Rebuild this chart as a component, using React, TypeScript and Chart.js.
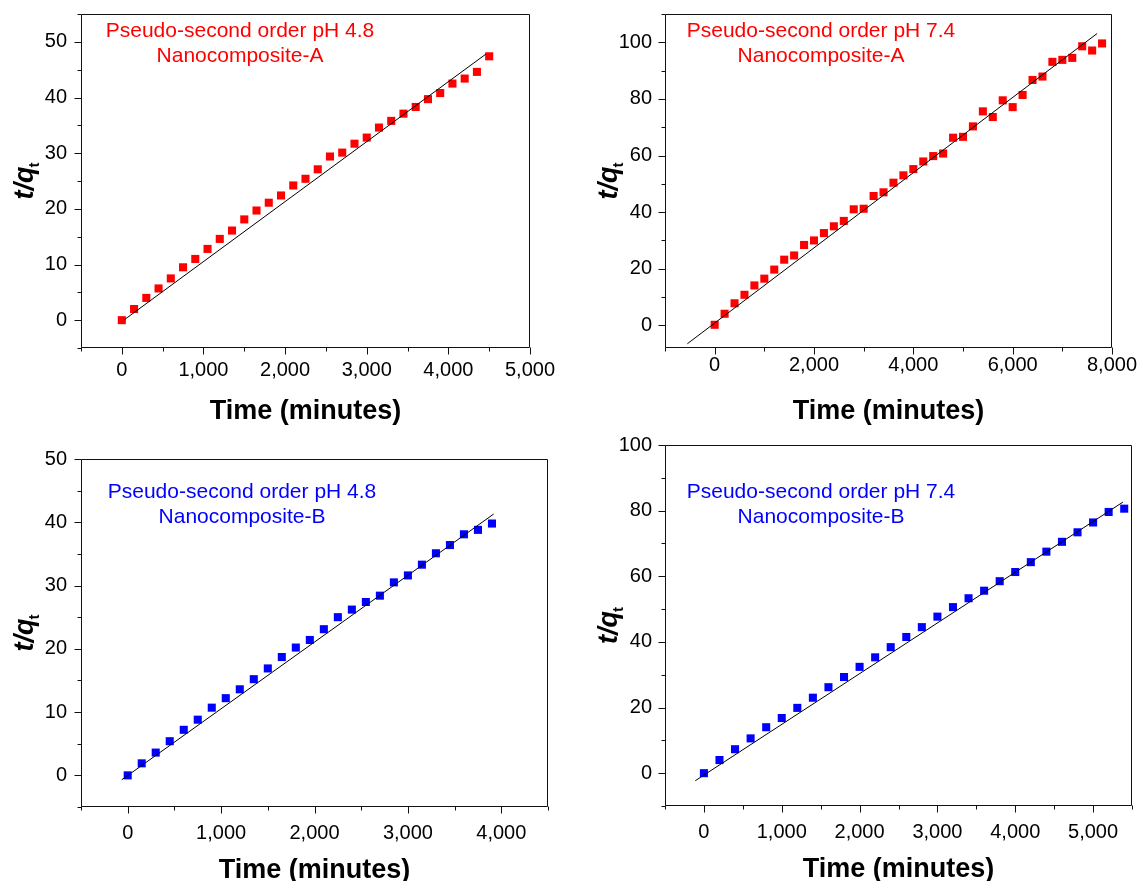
import React, { useEffect, useRef } from 'react';
import { Chart, registerables } from 'chart.js';

Chart.register(...registerables);

const FONT = '"Liberation Sans", Arial, Helvetica, sans-serif';

// ---------- Data: Nanocomposite-A, pH 4.8 ----------
const timeA48 = [0, 150, 300, 450, 600, 750, 900, 1050, 1200, 1350, 1500, 1650, 1800, 1950, 2100, 2250, 2400, 2550, 2700, 2850, 3000, 3150, 3300, 3450, 3600, 3750, 3900, 4050, 4200, 4350, 4500];
const qA48 = [0, 2.0, 4.0, 5.7, 7.5, 9.5, 11.0, 12.8, 14.6, 16.1, 18.1, 19.7, 21.1, 22.4, 24.2, 25.4, 27.1, 29.4, 30.1, 31.7, 32.8, 34.6, 35.8, 37.1, 38.3, 39.7, 40.8, 42.5, 43.4, 44.6, 47.4];
const fitTimeA48 = [30, 4460];
const fitQA48 = [0.07, 47.8];
const xTicksA48 = [0, 1000, 2000, 3000, 4000, 5000];
const yTicksA48 = [0, 10, 20, 30, 40, 50];

// ---------- Data: Nanocomposite-A, pH 7.4 ----------
const timeA74 = [0, 200, 400, 600, 800, 1000, 1200, 1400, 1600, 1800, 2000, 2200, 2400, 2600, 2800, 3000, 3200, 3400, 3600, 3800, 4000, 4200, 4400, 4600, 4800, 5000, 5200, 5400, 5600, 5800, 6000, 6200, 6400, 6600, 6800, 7000, 7200, 7400, 7600, 7800];
const qA74 = [0.2, 4.1, 7.8, 10.8, 14.1, 16.5, 19.7, 23.2, 24.7, 28.4, 30.0, 32.6, 35.0, 36.9, 41.0, 41.2, 45.7, 47.0, 50.4, 53.0, 55.2, 57.9, 59.8, 60.7, 66.3, 66.6, 70.3, 75.6, 73.6, 79.5, 77.1, 81.4, 86.7, 87.9, 93.1, 93.8, 94.5, 98.6, 97.1, 99.6];
const fitTimeA74 = [-550, 7700];
const fitQA74 = [-6.5, 103.1];
const xTicksA74 = [0, 2000, 4000, 6000, 8000];
const yTicksA74 = [0, 20, 40, 60, 80, 100];

// ---------- Data: Nanocomposite-B, pH 4.8 ----------
const timeB48 = [0, 150, 300, 450, 600, 750, 900, 1050, 1200, 1350, 1500, 1650, 1800, 1950, 2100, 2250, 2400, 2550, 2700, 2850, 3000, 3150, 3300, 3450, 3600, 3750, 3900];
const qB48 = [0, 1.9, 3.6, 5.4, 7.2, 8.8, 10.7, 12.2, 13.6, 15.2, 16.9, 18.7, 20.2, 21.4, 23.1, 25.0, 26.2, 27.4, 28.4, 30.5, 31.6, 33.3, 35.1, 36.4, 38.1, 38.8, 39.8];
const fitTimeB48 = [-64, 3918];
const fitQB48 = [-0.7, 41.3];
const xTicksB48 = [0, 1000, 2000, 3000, 4000];
const yTicksB48 = [0, 10, 20, 30, 40, 50];

// ---------- Data: Nanocomposite-B, pH 7.4 ----------
const timeB74 = [0, 200, 400, 600, 800, 1000, 1200, 1400, 1600, 1800, 2000, 2200, 2400, 2600, 2800, 3000, 3200, 3400, 3600, 3800, 4000, 4200, 4400, 4600, 4800, 5000, 5200, 5400];
const qB74 = [0, 4.0, 7.3, 10.6, 14.0, 16.8, 19.9, 23.0, 26.2, 29.3, 32.4, 35.3, 38.4, 41.5, 44.5, 47.7, 50.6, 53.3, 55.6, 58.5, 61.3, 64.3, 67.5, 70.5, 73.4, 76.4, 79.6, 80.6];
const fitTimeB74 = [-111, 5383];
const fitQB74 = [-2.3, 82.6];
const xTicksB74 = [0, 1000, 2000, 3000, 4000, 5000];
const yTicksB74 = [0, 20, 40, 60, 80, 100];

const xTitle = 'Time (minutes)';
const yTitleMain = 't/q';
const yTitleSub = 't';

type Panel = {
  time: number[]; q: number[]; fitT: number[]; fitQ: number[];
  xTicks: number[]; yTicks: number[];
  xMin: number; xMax: number; yMin: number; yMax: number;
  xMajor: number; xMinor: number; yMajor: number; yMinor: number;
  color: string; line1: string; line2: string;
  // layout
  left: number; top: number; w: number; h: number;
  padTop: number; padRight: number; xAxisH: number; xLabelPad: number; yLabelPad: number;
  noteDx: number; noteDy: number;
};

const panels: Panel[] = [
  {
    time: timeA48, q: qA48, fitT: fitTimeA48, fitQ: fitQA48, xTicks: xTicksA48, yTicks: yTicksA48,
    xMin: -500, xMax: 5000, yMin: -5, yMax: 55, xMajor: 1000, xMinor: 500, yMajor: 10, yMinor: 5,
    color: '#ff0000', line1: 'Pseudo-second order pH 4.8', line2: 'Nanocomposite-A',
    left: 0, top: 0, w: 570, h: 440, padTop: 14, padRight: 40, xAxisH: 92, xLabelPad: 2, yLabelPad: 6,
    noteDx: 159, noteDy: 23,
  },
  {
    time: timeA74, q: qA74, fitT: fitTimeA74, fitQ: fitQA74, xTicks: xTicksA74, yTicks: yTicksA74,
    xMin: -1000, xMax: 8000, yMin: -8, yMax: 110, xMajor: 2000, xMinor: 1000, yMajor: 20, yMinor: 10,
    color: '#ff0000', line1: 'Pseudo-second order pH 7.4', line2: 'Nanocomposite-A',
    left: 584, top: 0, w: 554, h: 440, padTop: 14, padRight: 26, xAxisH: 92, xLabelPad: -3, yLabelPad: 5,
    noteDx: 156, noteDy: 23,
  },
  {
    time: timeB48, q: qB48, fitT: fitTimeB48, fitQ: fitQB48, xTicks: xTicksB48, yTicks: yTicksB48,
    xMin: -500, xMax: 4500, yMin: -5, yMax: 50, xMajor: 1000, xMinor: 500, yMajor: 10, yMinor: 5,
    color: '#0000ff', line1: 'Pseudo-second order pH 4.8', line2: 'Nanocomposite-B',
    left: 0, top: 420, w: 584, h: 461, padTop: 39, padRight: 36, xAxisH: 74, xLabelPad: 6, yLabelPad: 6,
    noteDx: 161, noteDy: 39,
  },
  {
    time: timeB74, q: qB74, fitT: fitTimeB74, fitQ: fitQB74, xTicks: xTicksB74, yTicks: yTicksB74,
    xMin: -500, xMax: 5500, yMin: -10, yMax: 100, xMajor: 1000, xMinor: 500, yMajor: 20, yMinor: 10,
    color: '#0000ff', line1: 'Pseudo-second order pH 7.4', line2: 'Nanocomposite-B',
    left: 584, top: 420, w: 554, h: 461, padTop: 25, padRight: 6, xAxisH: 75, xLabelPad: 6, yLabelPad: 5,
    noteDx: 156, noteDy: 53,
  },
];

const isMultiple = (v: number, step: number) => Math.abs(v / step - Math.round(v / step)) < 1e-6;

function framePlugin(p: Panel) {
  return {
    id: 'frame',
    afterDraw(chart: any) {
      const { ctx, chartArea } = chart;
      const { left, right, top, bottom } = chartArea;
      const xs = chart.scales.x;
      const ys = chart.scales.y;
      ctx.save();
      ctx.strokeStyle = '#111';
      ctx.lineWidth = 1;
      const L = Math.round(left) + 0.5;
      const R = Math.round(right) - 0.5;
      const T = Math.round(top) + 0.5;
      const B = Math.round(bottom) - 0.5;
      ctx.beginPath();
      ctx.rect(L, T, R - L, B - T);
      ctx.stroke();
      // x ticks (outward, downward)
      ctx.beginPath();
      const x0 = Math.ceil(p.xMin / p.xMinor - 1e-9) * p.xMinor;
      for (let v = x0; v <= p.xMax + 1e-9; v += p.xMinor) {
        const px = Math.round(xs.getPixelForValue(v)) + 0.5;
        const len = isMultiple(v, p.xMajor) ? 7 : 4;
        ctx.moveTo(px, B);
        ctx.lineTo(px, B + len);
      }
      // y ticks (outward, leftward)
      const y0 = Math.ceil(p.yMin / p.yMinor - 1e-9) * p.yMinor;
      for (let v = y0; v <= p.yMax + 1e-9; v += p.yMinor) {
        const py = Math.round(ys.getPixelForValue(v)) + 0.5;
        const len = isMultiple(v, p.yMajor) ? 7 : 4;
        ctx.moveTo(L, py);
        ctx.lineTo(L - len, py);
      }
      ctx.stroke();

      // x title
      ctx.fillStyle = '#000';
      ctx.font = `bold 27px ${FONT}`;
      ctx.textAlign = 'center';
      ctx.textBaseline = 'alphabetic';
      ctx.fillText(xTitle, (left + right) / 2, bottom + 71);

      // y title with subscript
      ctx.save();
      ctx.translate(left - 48, (top + bottom) / 2);
      ctx.rotate(-Math.PI / 2);
      ctx.font = `italic bold 27px ${FONT}`;
      const w1 = ctx.measureText(yTitleMain).width;
      ctx.font = `bold 15px ${FONT}`;
      const w2 = ctx.measureText(yTitleSub).width;
      const start = -(w1 + w2 - 1) / 2;
      ctx.textAlign = 'left';
      ctx.font = `italic bold 27px ${FONT}`;
      ctx.fillText(yTitleMain, start, 0);
      ctx.font = `bold 15px ${FONT}`;
      ctx.fillText(yTitleSub, start + w1 - 1, 6);
      ctx.restore();

      // annotation
      ctx.fillStyle = p.color;
      ctx.font = `21px ${FONT}`;
      ctx.textAlign = 'center';
      ctx.fillText(p.line1, left + p.noteDx, top + p.noteDy);
      ctx.fillText(p.line2, left + p.noteDx, top + p.noteDy + 25);
      ctx.restore();
    },
  };
}

function PanelChart({ p }: { p: Panel }) {
  const ref = useRef<HTMLCanvasElement | null>(null);
  useEffect(() => {
    if (!ref.current) return;
    const chart = new Chart(ref.current, {
      type: 'scatter',
      data: {
        datasets: [
          {
            type: 'line',
            data: p.fitT.map((t, i) => ({ x: t, y: p.fitQ[i] })),
            borderColor: '#000',
            borderWidth: 1,
            pointRadius: 0,
            fill: false,
            showLine: true,
          } as any,
          {
            data: p.time.map((t, i) => ({ x: t, y: p.q[i] })),
            pointStyle: 'rect',
            pointRadius: 5.7,
            pointBackgroundColor: p.color,
            pointBorderWidth: 0,
            backgroundColor: p.color,
            borderColor: p.color,
            showLine: false,
          },
        ],
      },
      options: {
        responsive: false,
        animation: false,
        devicePixelRatio: 1,
        layout: { padding: { left: 0, top: p.padTop, right: p.padRight, bottom: 0 } },
        plugins: { legend: { display: false }, tooltip: { enabled: false } },
        scales: {
          x: {
            type: 'linear',
            min: p.xMin,
            max: p.xMax,
            grid: { display: false },
            border: { display: false },
            ticks: {
              color: '#000',
              font: { family: FONT, size: 20 },
              padding: p.xLabelPad,
              maxRotation: 0,
              autoSkip: false,
              callback: (v: any) => Number(v).toLocaleString('en-US'),
            },
            afterBuildTicks: (s: any) => { s.ticks = p.xTicks.map((v) => ({ value: v })); },
            afterFit: (s: any) => { s.height = p.xAxisH; s.paddingLeft = 0; s.paddingRight = 0; },
          },
          y: {
            type: 'linear',
            min: p.yMin,
            max: p.yMax,
            grid: { display: false },
            border: { display: false },
            ticks: {
              color: '#000',
              font: { family: FONT, size: 20 },
              padding: p.yLabelPad,
              autoSkip: false,
              callback: (v: any) => Number(v).toLocaleString('en-US'),
            },
            afterBuildTicks: (s: any) => { s.ticks = p.yTicks.map((v) => ({ value: v })); },
            afterFit: (s: any) => { s.width = 81; s.paddingTop = 0; s.paddingBottom = 0; },
          },
        },
      },
      plugins: [framePlugin(p)],
    } as any);
    return () => chart.destroy();
  }, [p]);
  return (
    <canvas
      ref={ref}
      width={p.w}
      height={p.h}
      style={{ position: 'absolute', left: p.left, top: p.top, width: p.w, height: p.h }}
    />
  );
}

export default function App() {
  return (
    <div style={{ position: 'absolute', left: 0, top: 0, width: 1138, height: 881, background: '#fff', overflow: 'hidden' }}>
      {panels.map((p, i) => (
        <PanelChart key={i} p={p} />
      ))}
    </div>
  );
}
